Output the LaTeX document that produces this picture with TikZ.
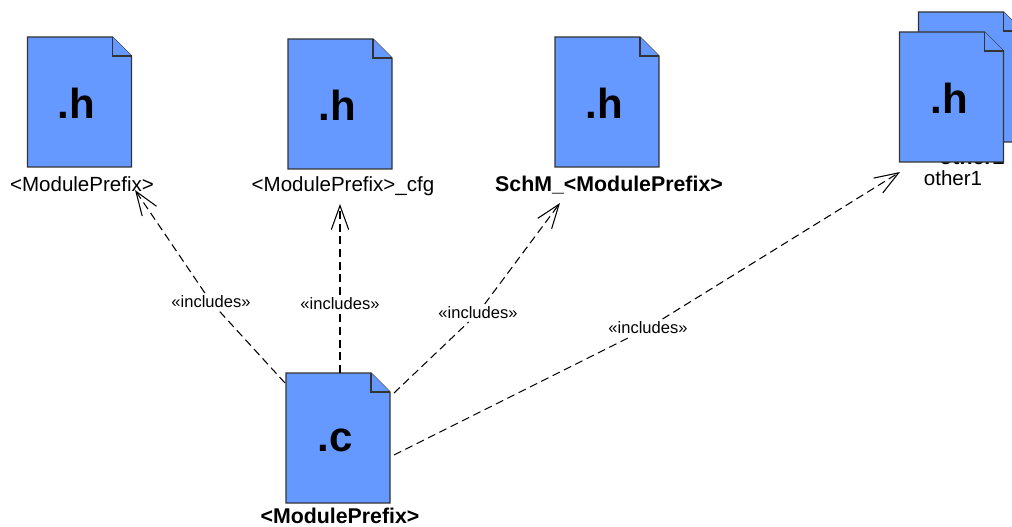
\documentclass[tikz,border=0pt]{standalone}
\usepackage{fontspec}
\setmainfont{Liberation Sans}
\usepackage{tikz}
\usetikzlibrary{arrows.meta}
\definecolor{docblue}{HTML}{6699FF}
\definecolor{docline}{HTML}{333333}
\newcommand{\filedoc}[3]{%
  \filldraw[docface] (#2-52,#3-65) -- (#2+33,#3-65) -- (#2+52,#3-46) -- (#2+52,#3+65) -- (#2-52,#3+65) -- cycle;
  \draw[docface] (#2+33,#3-65) -- (#2+33,#3-46) -- (#2+52,#3-46);
  \node[doctype] (#1) at (#2,#3) {};
}
\tikzset{
  docface/.style={fill=docblue, draw=docline, line width=0.9pt},
  doctype/.style={font=\fontsize{31.5}{34}\selectfont\bfseries, text=black, inner sep=0},
  docname/.style={font=\fontsize{15.4}{18}\selectfont, inner sep=0},
  docbold/.style={font=\fontsize{16}{18}\selectfont\bfseries, inner sep=0},
  stereo/.style={font=\fontsize{12.4}{14}\selectfont, inner sep=2pt},
  dep/.style={dashed, dash pattern=on 6pt off 3.5pt, line width=0.8pt},
  deptip/.style={dep, -{Straight Barb[length=18pt, width=13pt, line width=0.8pt]}},
}
\begin{document}
\begin{tikzpicture}[x=0.75pt, y=-0.75pt]
    \useasboundingbox (0,0) rectangle (1012,527);
    \begin{scope}
        \clip (0,0) rectangle (1012,527);
        \filedoc{other2}{970.5}{77}
        \node[docbold] (other2name) at (972,157) {other2};
    \end{scope}
    \filedoc{other1}{951.5}{97}
    \node[doctype] (other1type) at (949,98) {.h};
    \node[docname] (other1name) at (953,178) {other1};
    \filedoc{h1}{79.5}{102}
    \node[doctype] (h1type) at (76,103) {.h};
    \node[docname] (h1name) at (82,184) {<ModulePrefix>};
    \filedoc{h2}{340}{104}
    \node[doctype] (h2type) at (337,105) {.h};
    \node[docname] (h2name) at (343,186) {<ModulePrefix>\_cfg};
    \filedoc{h3}{607}{102}
    \node[doctype] (h3type) at (604,103) {.h};
    \node[docbold] (h3name) at (609,185) {SchM\_<ModulePrefix>};
    \filedoc{c}{338}{438}
    \node[doctype] (ctype) at (335,440) {.c};
    \node[docbold] (cname) at (340,516) {<ModulePrefix>};
    % includes edges
    \coordinate (c1) at (285,383);
    \coordinate (c2) at (340,373);
    \coordinate (c3) at (394,393);
    \coordinate (c4) at (394,455);
    \coordinate (h1end) at (135,190);
    \coordinate (h2end) at (340,204);
    \coordinate (h3end) at (560,203);
    \coordinate (other1end) at (900,172);
    \node[stereo] (inc1) at (211,302) {«includes»};
    \node[stereo] (inc2) at (340,304) {«includes»};
    \node[stereo] (inc3) at (478,313) {«includes»};
    \node[stereo] (inc4) at (648,328) {«includes»};
    \draw[dep] (c1) -- (inc1);
    \draw[deptip] (inc1) -- (h1end);
    \draw[dep] (c2) -- (inc2);
    \draw[deptip] (inc2) -- (h2end);
    \draw[dep] (c3) -- (inc3);
    \draw[deptip] (inc3) -- (h3end);
    \draw[dep] (c4) -- (inc4);
    \draw[deptip] (inc4) -- (other1end);
\end{tikzpicture}
\end{document}
